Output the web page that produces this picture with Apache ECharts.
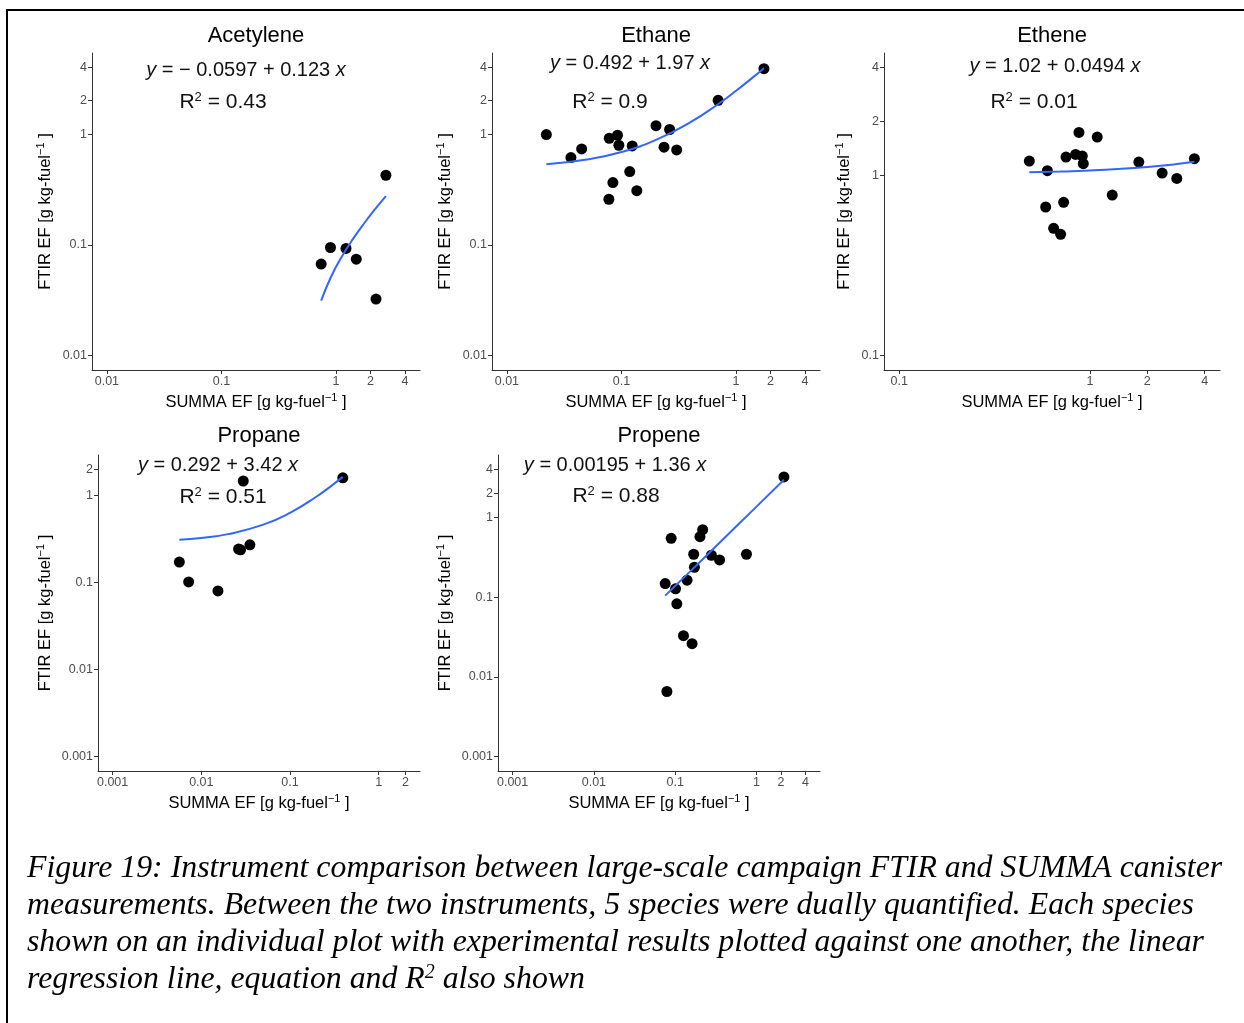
<!DOCTYPE html>
<html>
<head>
<meta charset="utf-8">
<script src="https://cdn.jsdelivr.net/npm/echarts@6/dist/echarts.min.js"></script>
<style>
  html, body { margin: 0; padding: 0; background: #fff; }
  #charts { width: 1244px; height: 1023px; }
</style>
</head>
<body>
<div id="charts"></div>
<script>
// 数据：SUMMA (x) 与 FTIR (y) 排放因子
var species = ['Acetylene', 'Ethane', 'Ethene', 'Propane', 'Propene'];

var acetyleneSumma = [0.741, 0.893, 1.22, 1.50, 2.23, 2.72];
var acetyleneFtir  = [0.067, 0.0946, 0.0927, 0.0743, 0.0324, 0.425];
var acetyleneFitX  = [0.741, 0.9, 1.1, 1.4, 1.8, 2.2, 2.72];
var acetyleneFitY  = [0.0314, 0.0510, 0.0756, 0.1125, 0.1617, 0.2109, 0.2749];

var ethaneSumma = [0.0221, 0.0362, 0.0449, 0.0782, 0.0923, 0.0948, 0.124, 0.118, 0.0841, 0.136, 0.0776, 0.200, 0.263, 0.235, 0.303, 0.697, 1.75];
var ethaneFtir  = [0.989, 0.614, 0.734, 0.917, 0.976, 0.793, 0.782, 0.459, 0.365, 0.308, 0.258, 1.19, 1.10, 0.761, 0.72, 2.02, 3.90];
var ethaneFitX  = [0.0221, 0.05, 0.1, 0.2, 0.4, 0.7, 1.0, 1.4, 1.75];
var ethaneFitY  = [0.5355, 0.5905, 0.689, 0.886, 1.28, 1.871, 2.462, 3.25, 3.94];

var etheneSumma = [0.481, 0.598, 0.586, 0.645, 0.702, 0.728, 0.749, 0.841, 0.876, 0.912, 0.923, 1.092, 1.309, 1.805, 2.392, 2.855, 3.53];
var etheneFtir  = [1.206, 1.066, 0.670, 0.510, 0.472, 0.711, 1.27, 1.314, 1.74, 1.286, 1.166, 1.64, 0.781, 1.191, 1.035, 0.966, 1.243];
var etheneFitX  = [0.481, 0.7, 1.0, 1.4, 2.0, 2.8, 3.53];
var etheneFitY  = [1.044, 1.0546, 1.069, 1.089, 1.119, 1.158, 1.194];

var propaneSumma = [0.00565, 0.0072, 0.0154, 0.0263, 0.0277, 0.0353, 0.0297, 0.394];
var propaneFtir  = [0.172, 0.1018, 0.0803, 0.243, 0.238, 0.272, 1.47, 1.60];
var propaneFitX  = [0.00565, 0.01, 0.02, 0.05, 0.1, 0.2, 0.3, 0.394];
var propaneFitY  = [0.3113, 0.3262, 0.3604, 0.463, 0.634, 0.976, 1.318, 1.639];

var propeneSumma = [2.18, 0.0893, 0.218, 0.202, 0.169, 0.279, 0.352, 0.754, 0.1725, 0.140, 0.0754, 0.101, 0.1048, 0.1265, 0.1615, 0.0791];
var propeneFtir  = [3.22, 0.546, 0.701, 0.573, 0.345, 0.335, 0.293, 0.345, 0.237, 0.163, 0.148, 0.127, 0.0825, 0.0329, 0.0261, 0.00656];
var propeneFitX  = [0.0754, 0.15, 0.3, 0.6, 1.2, 2.18];
var propeneFitY  = [0.1045, 0.2060, 0.4100, 0.8180, 1.634, 2.967];

var equations = ['\u2212 0.0597 + 0.123', '0.492 + 1.97', '1.02 + 0.0494', '0.292 + 3.42', '0.00195 + 1.36'];
var r2Values  = ['0.43', '0.9', '0.01', '0.51', '0.88'];

// 坐标轴范围与刻度
var limits = [[0.01, 4], [0.01, 4], [0.1, 4], [0.001, 2], [0.001, 4]];
var xTicks = [
  ['0.01', '0.1', '1', '2', '4'],
  ['0.01', '0.1', '1', '2', '4'],
  ['0.1', '1', '2', '4'],
  ['0.001', '0.01', '0.1', '1', '2'],
  ['0.001', '0.01', '0.1', '1', '2', '4']
];
var yTicks = [
  ['0.01', '0.1', '1', '2', '4'],
  ['0.01', '0.1', '1', '2', '4'],
  ['0.1', '1', '2', '4'],
  ['0.001', '0.01', '0.1', '1', '2'],
  ['0.001', '0.01', '0.1', '1', '2', '4']
];

var summa = [acetyleneSumma, ethaneSumma, etheneSumma, propaneSumma, propeneSumma];
var ftir  = [acetyleneFtir, ethaneFtir, etheneFtir, propaneFtir, propeneFtir];
var fitX  = [acetyleneFitX, ethaneFitX, etheneFitX, propaneFitX, propeneFitX];
var fitY  = [acetyleneFitY, ethaneFitY, etheneFitY, propaneFitY, propeneFitY];

// 版面
var grids = [
  {left: 92,  top: 53,  width: 328, height: 317},
  {left: 492, top: 53,  width: 328, height: 317},
  {left: 884, top: 53,  width: 336, height: 317},
  {left: 98,  top: 455, width: 322, height: 316},
  {left: 498, top: 455, width: 322, height: 316}
];
var yNameGap = [37, 37, 30, 43, 43];
var titlePos = [[256, 36], [656, 36], [1052, 36], [259, 436], [659, 436]];
var eqPos = [[246, 70], [630, 63], [1055, 66], [218, 465], [615, 465]];
var r2Pos = [[223, 102], [610, 102], [1034, 102], [223, 497], [616, 496]];

var FONT = '"Liberation Sans", Arial, sans-serif';
var SERIF = '"Liberation Serif", "Times New Roman", serif';

function expand(lim) {
  var a = Math.log10(lim[0]), b = Math.log10(lim[1]), d = (b - a) * 0.05;
  return [Math.pow(10, a - d), Math.pow(10, b + d)];
}
function zip(a, b) {
  return a.map(function (v, i) { return [v, b[i]]; });
}
function fmt(v) { return String(parseFloat(Number(v).toPrecision(6))); }

var nameRich = {
  n: {fontSize: 16.5, fontFamily: FONT, color: '#000', lineHeight: 20},
  s: {fontSize: 11, fontFamily: FONT, color: '#000', verticalAlign: 'top', lineHeight: 11}
};

function axis(i, dir) {
  var lim = expand(limits[i]);
  var ticks = (dir === 'x' ? xTicks[i] : yTicks[i]).map(Number);
  return {
    type: 'log',
    logBase: 10,
    gridIndex: i,
    min: lim[0],
    max: lim[1],
    name: dir === 'x' ? '{n|SUMMA EF [g kg-fuel}{s|\u22121}{n| ]}' : '{n|FTIR EF [g kg-fuel}{s|\u22121}{n| ]}',
    nameLocation: 'middle',
    nameGap: dir === 'x' ? 22 : yNameGap[i],
    nameTextStyle: {rich: nameRich},
    axisLine: {show: true, onZero: false, lineStyle: {color: '#333', width: 1}},
    axisTick: {show: true, length: 4, customValues: ticks, lineStyle: {color: '#333'}},
    axisLabel: {
      show: true, customValues: ticks, margin: 5,
      fontSize: 12.5, fontFamily: FONT, color: '#4D4D4D',
      formatter: fmt
    },
    splitLine: {show: false},
    minorTick: {show: false}
  };
}

var chart = echarts.init(document.getElementById('charts'));

var xAxes = [], yAxes = [], series = [], graphics = [];

graphics.push({
  type: 'rect', z: 100,
  shape: {x: 7, y: 10, width: 1260, height: 1040},
  style: {fill: 'none', stroke: '#000', lineWidth: 2}
});

for (var i = 0; i < species.length; i++) {
  xAxes.push(axis(i, 'x'));
  yAxes.push(axis(i, 'y'));
  series.push({
    type: 'scatter', xAxisIndex: i, yAxisIndex: i,
    data: zip(summa[i], ftir[i]),
    symbolSize: 11,
    itemStyle: {color: '#000', opacity: 1},
    z: 2
  });
  series.push({
    type: 'line', xAxisIndex: i, yAxisIndex: i,
    data: zip(fitX[i], fitY[i]),
    showSymbol: false, smooth: true,
    lineStyle: {color: '#3366FF', width: 2},
    z: 3
  });
  graphics.push({
    type: 'text', x: titlePos[i][0], y: titlePos[i][1],
    style: {text: species[i], font: '22px ' + FONT, fill: '#000',
      align: 'center', verticalAlign: 'middle', textAlign: 'center', textVerticalAlign: 'middle'}
  });
  graphics.push({
    type: 'text', x: eqPos[i][0], y: eqPos[i][1],
    style: {
      text: '{i|y}{n| = ' + equations[i] + ' }{i|x}',
      align: 'center', verticalAlign: 'middle', textAlign: 'center', textVerticalAlign: 'middle',
      rich: {
        n: {fontSize: 20, fontFamily: FONT, fill: '#111'},
        i: {fontSize: 20, fontFamily: FONT, fontStyle: 'italic', fill: '#111'}
      }
    }
  });
  graphics.push({
    type: 'text', x: r2Pos[i][0], y: r2Pos[i][1],
    style: {
      text: '{n|R}{s|2}{n| = ' + r2Values[i] + '}',
      align: 'center', verticalAlign: 'middle', textAlign: 'center', textVerticalAlign: 'middle',
      rich: {
        n: {fontSize: 21, fontFamily: FONT, fill: '#111', lineHeight: 23},
        s: {fontSize: 13, fontFamily: FONT, fill: '#111', verticalAlign: 'top', lineHeight: 13}
      }
    }
  });
}

// 图注
var caption = [
  '{c|Figure 19: Instrument comparison between large-scale campaign FTIR and SUMMA canister}',
  '{c|measurements. Between the two instruments, 5 species were dually quantified. Each species}',
  '{c|shown on an individual plot with experimental results plotted against one another, the linear}',
  '{c|regression line, equation and R}{s|2}{c| also shown}'
];
var captionY = [869, 906, 943, 980];
caption.forEach(function (line, k) {
  graphics.push({
    type: 'text', x: 27, y: captionY[k],
    style: {
      text: line, align: 'left', verticalAlign: 'middle', textAlign: 'left', textVerticalAlign: 'middle',
      rich: {
        c: {fontSize: 31.8, fontFamily: SERIF, fontStyle: 'italic', fill: '#000', lineHeight: 34},
        s: {fontSize: 20, fontFamily: SERIF, fontStyle: 'italic', fill: '#000', verticalAlign: 'top', lineHeight: 20}
      }
    }
  });
});

var option = {
  backgroundColor: '#fff',
  animation: false,
  grid: grids,
  xAxis: xAxes,
  yAxis: yAxes,
  series: series,
  graphic: graphics
};
chart.setOption(option);
</script>
</body>
</html>
